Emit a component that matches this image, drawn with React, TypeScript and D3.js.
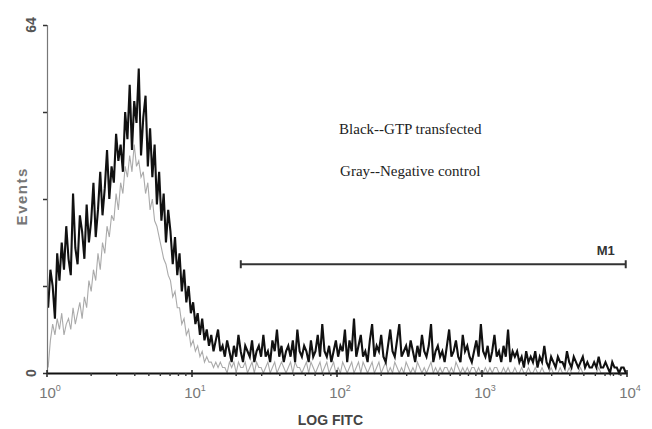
import { useEffect, useRef } from "react";
import * as d3 from "d3";

const width = 652;
const height = 429;
const margin = { top: 25, right: 25, bottom: 56, left: 47 };

// 256 channels spread over 4 decades (10^0 .. 10^4)
const channels = 256;

// Black -- GTP transfected
const blackCounts = [
  12, 19, 16, 10, 22, 17, 24, 19, 27, 21, 18, 33, 23, 20, 29, 26,
  21, 31, 24, 28, 35, 25, 30, 37, 29, 34, 41, 32, 38, 35, 44, 39,
  42, 37, 48, 43, 53, 41, 50, 46, 56, 40, 47, 51, 38, 45, 36, 42,
  31, 37, 28, 33, 24, 30, 26, 20, 25, 18, 22, 15, 19, 13, 16, 11,
  13, 9, 11, 7, 10, 6, 8, 5, 7, 4, 6, 8, 4, 5, 3, 6,
  4, 2, 5, 3, 7, 4, 2, 5, 4, 3, 6, 2, 4, 5, 3, 7,
  3, 4, 2, 6, 4, 8, 3, 5, 2, 4, 5, 3, 6, 2, 8, 4,
  3, 5, 4, 2, 6, 3, 4, 7, 3, 9, 4, 3, 5, 2, 4, 6,
  3, 5, 4, 8, 2, 6, 4, 10, 3, 5, 7, 3, 4, 2, 6, 9,
  3, 5, 4, 7, 3, 2, 5, 8, 4, 3, 6, 9, 3, 4, 5, 3,
  6, 4, 2, 5, 3, 7, 4, 3, 5, 9, 2, 4, 5, 3, 4, 2,
  5, 8, 3, 4, 6, 3, 2, 7, 4, 5, 3, 2, 4, 6, 3, 9,
  4, 3, 5, 2, 4, 7, 3, 4, 2, 5, 3, 8, 2, 4, 3, 4,
  2, 3, 1, 4, 2, 3, 2, 4, 1, 3, 2, 5, 2, 1, 3, 2,
  1, 3, 2, 2, 1, 4, 2, 1, 3, 2, 1, 2, 3, 1, 2, 1,
  1, 2, 1, 3, 1, 1, 2, 1, 0, 2, 1, 1, 0, 1, 1, 0,
];

// Gray -- Negative control
const grayCounts = [
  1, 6, 9, 7, 10, 8, 11, 7, 9, 10, 8, 12, 9, 11, 13, 10,
  14, 12, 17, 15, 19, 17, 22, 19, 24, 22, 27, 25, 29, 28, 33, 30,
  35, 33, 38, 36, 40, 37, 42, 38, 39, 36, 37, 33, 35, 30, 32, 28,
  27, 25, 23, 21, 20, 18, 17, 14, 15, 12, 12, 9, 10, 7, 8, 5,
  6, 4, 5, 3, 4, 2, 3, 2, 2, 1, 2, 1, 2, 1, 1, 0,
  2, 1, 2, 0, 2, 1, 1, 2, 0, 1, 2, 0, 2, 1, 1, 0,
  1, 2, 0, 1, 2, 0, 1, 2, 1, 0, 1, 2, 0, 2, 1, 1,
  0, 1, 2, 0, 2, 1, 0, 1, 2, 0, 1, 2, 0, 1, 2, 0,
  1, 0, 2, 1, 0, 1, 2, 0, 1, 2, 0, 2, 1, 0, 1, 2,
  0, 1, 2, 0, 1, 2, 0, 1, 0, 2, 1, 0, 1, 0, 2, 1,
  0, 1, 0, 2, 1, 0, 1, 0, 1, 2, 0, 1, 0, 1, 0, 1,
  1, 0, 1, 0, 2, 1, 0, 1, 0, 1, 0, 1, 1, 0, 1, 0,
  0, 1, 0, 1, 0, 1, 1, 0, 0, 1, 0, 1, 0, 0, 1, 0,
  0, 1, 0, 0, 1, 0, 0, 1, 0, 0, 1, 0, 0, 0, 1, 0,
  0, 0, 1, 0, 0, 0, 1, 0, 0, 0, 0, 1, 0, 0, 0, 0,
  0, 0, 0, 1, 0, 0, 0, 0, 0, 0, 0, 0, 0, 0, 0, 0,
];

const yTicks = [0, 16, 32, 48, 64];
const yTickLabels = ["0", "", "", "", "64"];
const xDecades = [1, 10, 100, 1000, 10000];
const xDecadeLabels = ["0", "1", "2", "3", "4"];

// M1 gate
const markerRange = [21.7, 9800];
const markerLevel = 20;

const legendLines = ["Black--GTP transfected", "Gray--Negative control"];

function App() {
  const d3Node = useRef(null);

  useEffect(() => {
    const root = d3.select(d3Node.current);
    root.selectAll("svg").remove();

    const svg = root
      .append("svg")
      .attr("width", width)
      .attr("height", height)
      .attr("viewBox", [0, 0, width, height])
      .style("position", "absolute")
      .style("left", 0)
      .style("top", 0)
      .style("background", "#fff");

    const x = d3
      .scaleLog()
      .domain([1, 10000])
      .range([margin.left, width - margin.right]);
    const y = d3
      .scaleLinear()
      .domain([0, 64])
      .range([height - margin.bottom, margin.top]);

    const chanValue = (i) => Math.pow(10, ((i + 0.5) * 4) / channels);

    const line = d3
      .line()
      .x((d, i) => x(chanValue(i)))
      .y((d) => y(d));

    // gray first, black on top
    svg
      .append("path")
      .datum(grayCounts)
      .attr("fill", "none")
      .attr("stroke", "#aaa")
      .attr("stroke-width", 1.1)
      .attr("d", line);

    svg
      .append("path")
      .datum(blackCounts)
      .attr("fill", "none")
      .attr("stroke", "#111")
      .attr("stroke-width", 2.1)
      .attr("d", line);

    // Y axis
    const yAxis = svg
      .append("g")
      .attr("transform", "translate(" + margin.left + ",0)")
      .call(d3.axisLeft(y).tickValues(yTicks).tickSize(4).tickFormat(() => ""));
    yAxis.select(".domain").attr("stroke", "#777").attr("stroke-width", 1.2);
    yAxis.selectAll(".tick line").attr("stroke", "#333").attr("stroke-width", 1.5);

    yAxis
      .selectAll(".ylab")
      .data(yTicks)
      .enter()
      .append("text")
      .attr("transform", (d) => "translate(-11," + y(d) + ") rotate(-90)")
      .attr("text-anchor", "middle")
      .attr("font-family", "Liberation Sans, Arial, sans-serif")
      .attr("font-weight", "bold")
      .attr("font-size", 14)
      .attr("fill", "#555")
      .text((d, i) => yTickLabels[i]);

    svg
      .append("text")
      .attr("transform", "translate(27," + y(32.5) + ") rotate(-90)")
      .attr("text-anchor", "middle")
      .attr("font-family", "Liberation Sans, Arial, sans-serif")
      .attr("font-weight", "bold")
      .attr("font-size", 15)
      .attr("letter-spacing", 1.5)
      .attr("fill", "#777")
      .text("Events");

    // X axis
    const minor = [];
    for (let p = 0; p < 4; p++) {
      for (let k = 2; k <= 9; k++) minor.push(k * Math.pow(10, p));
    }
    const xAxis = svg
      .append("g")
      .attr("transform", "translate(0," + y(0) + ")")
      .call(d3.axisBottom(x).tickValues(minor).tickSize(3).tickFormat(() => "").tickSizeOuter(0));
    xAxis.select(".domain").attr("stroke", "#111").attr("stroke-width", 2);
    xAxis.selectAll(".tick line").attr("stroke", "#333").attr("stroke-width", 1.4);

    xAxis
      .selectAll(".major")
      .data(xDecades)
      .enter()
      .append("line")
      .attr("x1", (d) => x(d))
      .attr("x2", (d) => x(d))
      .attr("y1", -3)
      .attr("y2", 4)
      .attr("stroke", "#222")
      .attr("stroke-width", 1.5);

    const decLab = xAxis
      .selectAll(".xlab")
      .data(xDecades)
      .enter()
      .append("text")
      .attr("x", (d) => x(d) + 3)
      .attr("y", 25)
      .attr("text-anchor", "middle")
      .attr("font-family", "Liberation Sans Narrow, Liberation Sans, sans-serif")
      .attr("font-size", 15)
      .attr("fill", "#777");
    decLab.append("tspan").text("10");
    decLab
      .append("tspan")
      .attr("dy", -7)
      .attr("font-size", 9)
      .text((d, i) => xDecadeLabels[i]);

    svg
      .append("text")
      .attr("x", x(90))
      .attr("y", 425)
      .attr("text-anchor", "middle")
      .attr("font-family", "Liberation Sans Narrow, Liberation Sans, sans-serif")
      .attr("font-weight", "bold")
      .attr("font-size", 14)
      .attr("fill", "#444")
      .text("LOG FITC");

    // M1 marker
    const m = svg.append("g").attr("stroke", "#333").attr("stroke-width", 2);
    m.append("line")
      .attr("x1", x(markerRange[0]))
      .attr("x2", x(markerRange[1]))
      .attr("y1", y(markerLevel))
      .attr("y2", y(markerLevel));
    markerRange.forEach((v) => {
      m.append("line")
        .attr("x1", x(v))
        .attr("x2", x(v))
        .attr("y1", y(markerLevel) - 4)
        .attr("y2", y(markerLevel) + 4);
    });
    svg
      .append("text")
      .attr("x", x(markerRange[1]) - 20)
      .attr("y", y(markerLevel) - 9)
      .attr("text-anchor", "middle")
      .attr("font-family", "Liberation Sans Narrow, Liberation Sans, sans-serif")
      .attr("font-weight", "bold")
      .attr("font-size", 13)
      .attr("fill", "#333")
      .text("M1");

    // legend text
    svg
      .selectAll(".legend")
      .data(legendLines)
      .enter()
      .append("text")
      .attr("x", x(320))
      .attr("y", (d, i) => y(44) + i * 42)
      .attr("text-anchor", "middle")
      .attr("font-family", "Liberation Serif, Times New Roman, serif")
      .attr("font-size", 15)
      .attr("fill", "#222")
      .text((d) => d);
  }, []);

  return <div ref={d3Node} />;
}

export default App;
